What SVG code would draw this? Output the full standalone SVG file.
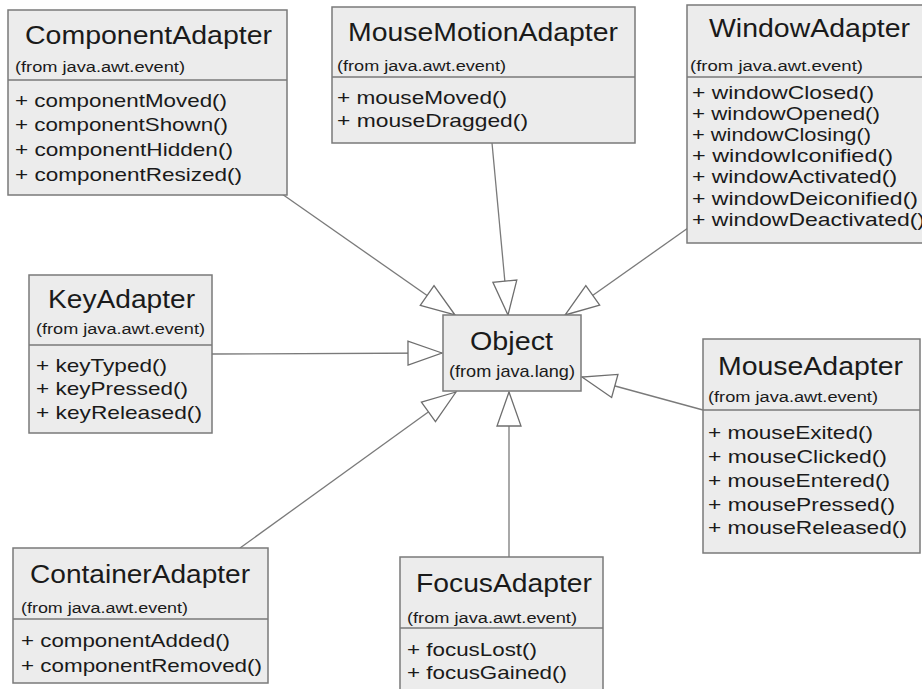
<svg xmlns="http://www.w3.org/2000/svg" width="922" height="689" viewBox="0 0 922 689">
<defs>
<marker id="gen" viewBox="-36 -14 38 28" markerWidth="38" markerHeight="28" refX="0" refY="0" markerUnits="userSpaceOnUse" orient="auto">
<path d="M0,0 L-34,-12 L-34,12 Z" fill="#ffffff" stroke="#6e6e6e" stroke-width="1.3" stroke-linejoin="miter"/>
</marker>
</defs>
<style>
.box{fill:#ececec;stroke:#7a7a7a;stroke-width:1.5}
.sep{stroke:#7a7a7a;stroke-width:1.5}
text{font-family:"Liberation Sans",Arial,sans-serif;fill:#1a1a1a}
.t{font-size:25px}
.s{font-size:15.5px}
.m{font-size:19px}
.conn line{stroke:#7a7a7a;stroke-width:1.3;marker-end:url(#gen)}
</style>
<rect width="922" height="689" fill="#ffffff"/>

<g id="connectors" class="conn">
<line x1="282" y1="194" x2="455" y2="315"/>
<line x1="492" y1="143" x2="508" y2="315"/>
<line x1="688" y1="228" x2="565" y2="315"/>
<line x1="212" y1="354" x2="442" y2="353"/>
<line x1="703" y1="410" x2="582" y2="377"/>
<line x1="240" y1="548" x2="456" y2="392"/>
<line x1="509" y1="557" x2="509" y2="392"/>
</g>

<g id="ComponentAdapter">
<rect class="box" x="8" y="10" width="279" height="185"/>
<line class="sep" x1="8" y1="80" x2="287" y2="80"/>
<text class="t" x="25" y="44" textLength="247" lengthAdjust="spacingAndGlyphs">ComponentAdapter</text>
<text class="s" x="15" y="72" textLength="170" lengthAdjust="spacingAndGlyphs">(from java.awt.event)</text>
<text class="m" x="15" y="107" textLength="212" lengthAdjust="spacingAndGlyphs">+ componentMoved()</text>
<text class="m" x="15" y="131" textLength="213" lengthAdjust="spacingAndGlyphs">+ componentShown()</text>
<text class="m" x="15" y="156" textLength="218" lengthAdjust="spacingAndGlyphs">+ componentHidden()</text>
<text class="m" x="15" y="181" textLength="227" lengthAdjust="spacingAndGlyphs">+ componentResized()</text>
</g>

<g id="MouseMotionAdapter">
<rect class="box" x="332" y="7" width="303" height="136"/>
<line class="sep" x1="332" y1="77" x2="635" y2="77"/>
<text class="t" x="348" y="41" textLength="270" lengthAdjust="spacingAndGlyphs">MouseMotionAdapter</text>
<text class="s" x="337" y="71" textLength="169" lengthAdjust="spacingAndGlyphs">(from java.awt.event)</text>
<text class="m" x="337" y="104" textLength="170" lengthAdjust="spacingAndGlyphs">+ mouseMoved()</text>
<text class="m" x="337" y="127" textLength="191" lengthAdjust="spacingAndGlyphs">+ mouseDragged()</text>
</g>

<g id="WindowAdapter">
<rect class="box" x="687" y="5" width="245" height="238"/>
<line class="sep" x1="687" y1="77" x2="932" y2="77"/>
<text class="t" x="709" y="37" textLength="201" lengthAdjust="spacingAndGlyphs">WindowAdapter</text>
<text class="s" x="690" y="71" textLength="173" lengthAdjust="spacingAndGlyphs">(from java.awt.event)</text>
<text class="m" x="692" y="99" textLength="182" lengthAdjust="spacingAndGlyphs">+ windowClosed()</text>
<text class="m" x="692" y="120" textLength="188" lengthAdjust="spacingAndGlyphs">+ windowOpened()</text>
<text class="m" x="692" y="141" textLength="179" lengthAdjust="spacingAndGlyphs">+ windowClosing()</text>
<text class="m" x="692" y="162" textLength="201" lengthAdjust="spacingAndGlyphs">+ windowIconified()</text>
<text class="m" x="692" y="183" textLength="205" lengthAdjust="spacingAndGlyphs">+ windowActivated()</text>
<text class="m" x="692" y="205" textLength="226" lengthAdjust="spacingAndGlyphs">+ windowDeiconified()</text>
<text class="m" x="692" y="226" textLength="233" lengthAdjust="spacingAndGlyphs">+ windowDeactivated()</text>
</g>

<g id="KeyAdapter">
<rect class="box" x="29" y="275" width="183" height="158"/>
<line class="sep" x1="29" y1="345" x2="212" y2="345"/>
<text class="t" x="48" y="308" textLength="147" lengthAdjust="spacingAndGlyphs">KeyAdapter</text>
<text class="s" x="36" y="334" textLength="169" lengthAdjust="spacingAndGlyphs">(from java.awt.event)</text>
<text class="m" x="36" y="372" textLength="131" lengthAdjust="spacingAndGlyphs">+ keyTyped()</text>
<text class="m" x="36" y="395" textLength="152" lengthAdjust="spacingAndGlyphs">+ keyPressed()</text>
<text class="m" x="36" y="419" textLength="166" lengthAdjust="spacingAndGlyphs">+ keyReleased()</text>
</g>

<g id="Object">
<rect class="box" x="443" y="315" width="138" height="76"/>
<text x="470" y="350" textLength="83" lengthAdjust="spacingAndGlyphs" style="font-size:26px">Object</text>
<text x="449" y="377" textLength="126" lengthAdjust="spacingAndGlyphs" style="font-size:17px">(from java.lang)</text>
</g>

<g id="MouseAdapter">
<rect class="box" x="703" y="339" width="217" height="214"/>
<line class="sep" x1="703" y1="410" x2="920" y2="410"/>
<text class="t" x="718" y="375" textLength="185" lengthAdjust="spacingAndGlyphs">MouseAdapter</text>
<text class="s" x="708" y="402" textLength="170" lengthAdjust="spacingAndGlyphs">(from java.awt.event)</text>
<text class="m" x="708" y="439" textLength="165" lengthAdjust="spacingAndGlyphs">+ mouseExited()</text>
<text class="m" x="708" y="463" textLength="179" lengthAdjust="spacingAndGlyphs">+ mouseClicked()</text>
<text class="m" x="708" y="487" textLength="182" lengthAdjust="spacingAndGlyphs">+ mouseEntered()</text>
<text class="m" x="708" y="511" textLength="187" lengthAdjust="spacingAndGlyphs">+ mousePressed()</text>
<text class="m" x="708" y="534" textLength="199" lengthAdjust="spacingAndGlyphs">+ mouseReleased()</text>
</g>

<g id="ContainerAdapter">
<rect class="box" x="13" y="548" width="255" height="135"/>
<line class="sep" x1="13" y1="619" x2="268" y2="619"/>
<text class="t" x="30" y="583" textLength="220" lengthAdjust="spacingAndGlyphs">ContainerAdapter</text>
<text class="s" x="21" y="613" textLength="167" lengthAdjust="spacingAndGlyphs">(from java.awt.event)</text>
<text class="m" x="21" y="647" textLength="209" lengthAdjust="spacingAndGlyphs">+ componentAdded()</text>
<text class="m" x="21" y="672" textLength="241" lengthAdjust="spacingAndGlyphs">+ componentRemoved()</text>
</g>

<g id="FocusAdapter">
<rect class="box" x="400" y="557" width="203" height="140"/>
<line class="sep" x1="400" y1="628" x2="603" y2="628"/>
<text class="t" x="416" y="592" textLength="176" lengthAdjust="spacingAndGlyphs">FocusAdapter</text>
<text class="s" x="407" y="623" textLength="170" lengthAdjust="spacingAndGlyphs">(from java.awt.event)</text>
<text class="m" x="407" y="656" textLength="130" lengthAdjust="spacingAndGlyphs">+ focusLost()</text>
<text class="m" x="407" y="679" textLength="160" lengthAdjust="spacingAndGlyphs">+ focusGained()</text>
</g>
</svg>
